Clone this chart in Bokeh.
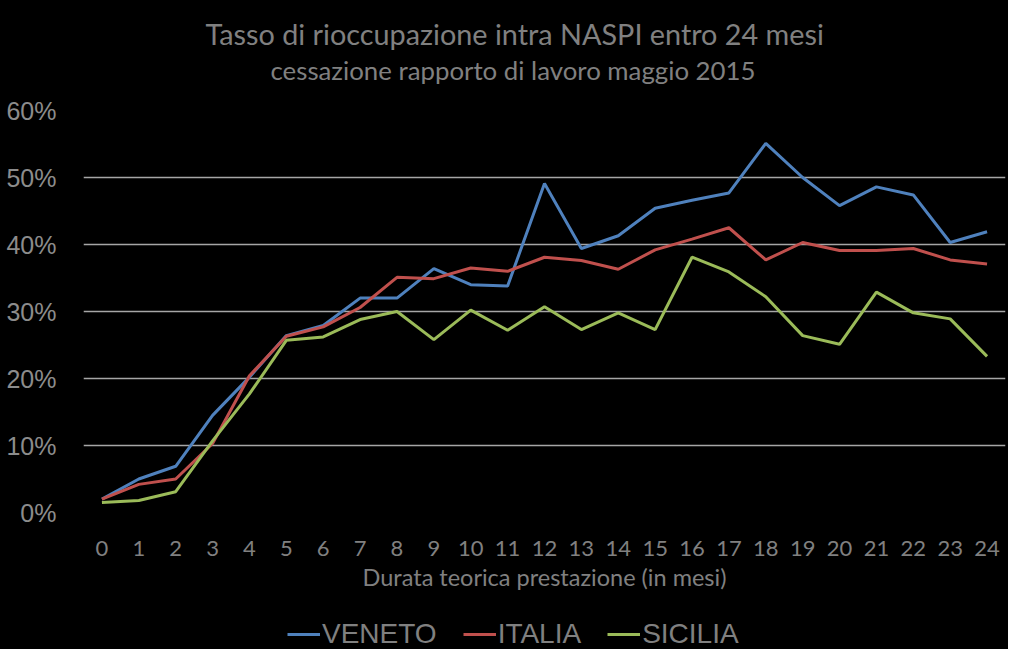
from bokeh.plotting import figure
from bokeh.layouts import column
from bokeh.models import FixedTicker, Legend, LegendItem, Title, Range1d
from bokeh.embed import file_html
from bokeh.resources import INLINE

months = list(range(25))
veneto = [2.0, 5.0, 6.9, 14.5, 20.2, 26.4, 27.9, 32.0, 32.0, 36.4, 34.0, 33.8, 49.1,
          39.4, 41.3, 45.4, 46.6, 47.7, 55.1, 50.0, 45.8, 48.6, 47.4, 40.3, 41.9]
italia = [2.0, 4.2, 5.0, 10.3, 20.4, 26.3, 27.7, 30.6, 35.1, 34.9, 36.5, 36.0, 38.1,
          37.6, 36.3, 39.2, 40.8, 42.5, 37.7, 40.3, 39.1, 39.1, 39.4, 37.7, 37.1]
sicilia = [1.5, 1.8, 3.1, 10.7, 17.7, 25.7, 26.2, 28.8, 30.0, 25.8, 30.2, 27.2, 30.7,
           27.3, 29.8, 27.3, 38.1, 35.9, 32.2, 26.4, 25.1, 32.9, 29.8, 28.9, 23.3]
series_names = ["VENETO", "ITALIA", "SICILIA"]
series_colors = ["#4f81bd", "#c0504d", "#9bbb59"]
y_ticks = [0, 10, 20, 30, 40, 50, 60]
y_labels = {t: f"{t}%" for t in y_ticks}

title_1 = "Tasso di rioccupazione intra NASPI entro 24 mesi"
title_2 = "cessazione rapporto di lavoro maggio 2015"
x_label = "Durata teorica prestazione (in mesi)"

GRAY = "#808080"
series = [veneto, italia, sicilia]

# ---- main chart ----
p = figure(width=1008, height=596, output_backend="svg", toolbar_location=None,
           x_range=Range1d(-0.5, 24.5), y_range=Range1d(0, 60),
           min_border_left=83, min_border_right=3, min_border_top=110,
           min_border_bottom=84)
p.background_fill_color = "black"
p.border_fill_color = "black"
p.outline_line_color = None

spacer = Title(text="\u00a0", text_font="Lato", text_font_size="20px",
               text_color="black", standoff=0)
sub = Title(text=title_2, align="left", text_font="Lato", text_font_size="25.8px",
            text_color=GRAY, text_font_style="normal", standoff=0, offset=187)
main = Title(text=title_1, align="left", text_font="Lato", text_font_size="28.8px",
             text_color=GRAY, text_font_style="normal", standoff=3, offset=122)
p.add_layout(spacer, "above")
p.add_layout(sub, "above")
p.add_layout(main, "above")

for vals, col in zip(series, series_colors):
    p.line(months, vals, line_color=col, line_width=3)

p.xgrid.grid_line_color = None
p.ygrid.grid_line_color = "#a6a6a6"
p.ygrid.grid_line_width = 1.5
p.yaxis.ticker = FixedTicker(ticks=y_ticks)
p.yaxis.major_label_overrides = y_labels
p.yaxis.major_label_text_font = "Liberation Sans"
p.yaxis.major_label_text_font_size = "25px"
p.yaxis.major_label_text_color = "#8c8c8c"
p.yaxis.major_label_standoff = 21
p.yaxis.axis_line_color = None
p.yaxis.major_tick_line_color = None
p.yaxis.minor_tick_line_color = None

p.xaxis.ticker = FixedTicker(ticks=months)
p.xaxis.major_label_text_font = "Lato"
p.xaxis.major_label_text_font_size = "22px"
p.xaxis.major_label_text_color = GRAY
p.xaxis.major_label_standoff = 22
p.xaxis.axis_line_color = None
p.xaxis.major_tick_line_color = None
p.xaxis.minor_tick_line_color = None
p.xaxis.axis_label = x_label
p.xaxis.axis_label_text_font = "Lato"
p.xaxis.axis_label_text_font_size = "23.5px"
p.xaxis.axis_label_text_font_style = "normal"
p.xaxis.axis_label_text_color = GRAY
p.xaxis.axis_label_standoff = 4

# ---- legend strip (same series, range kept out of view so only the key shows) ----
lg = figure(width=1008, height=53, output_backend="svg", toolbar_location=None,
            x_range=Range1d(1000, 1001), y_range=Range1d(0, 60),
            min_border_left=83, min_border_right=3, min_border_top=2,
            min_border_bottom=0)
lg.background_fill_color = "black"
lg.border_fill_color = "black"
lg.outline_line_color = "black"
lg.outline_line_width = 3
lg.axis.visible = False
lg.grid.grid_line_color = None
items = []
for name, vals, col in zip(series_names, series, series_colors):
    r = lg.line(months, vals, line_color=col, line_width=3)
    items.append(LegendItem(label=name, renderers=[r]))
legend = Legend(items=items, orientation="horizontal", location=(204, -1),
                label_text_font="Liberation Sans", label_text_font_size="28px",
                label_text_color=GRAY, glyph_width=33, label_standoff=2,
                spacing=26, background_fill_alpha=0, border_line_color=None,
                padding=0, margin=0)
lg.add_layout(legend, "center")

layout = column(p, lg, spacing=0, styles={"background-color": "black"})
open("out.html", "w").write(file_html(layout, INLINE))
